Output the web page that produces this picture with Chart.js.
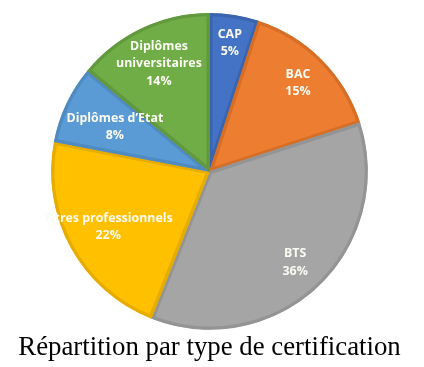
<!DOCTYPE html>
<html>
<head>
<meta charset="utf-8">
<script src="https://cdn.jsdelivr.net/npm/chart.js@4"></script>
<style>
  html, body { margin: 0; padding: 0; background: #fff; }
  #wrap { width: 424px; height: 367px; }
</style>
</head>
<body>
<div id="wrap"><canvas id="c" width="424" height="367"></canvas></div>
<script>
const categories = ["CAP", "BAC", "BTS", "Titres professionnels", "Diplômes d’Etat", "Diplômes universitaires"];
const labelLines = [["CAP"], ["BAC"], ["BTS"], ["Titres professionnels"], ["Diplômes d’Etat"], ["Diplômes", "universitaires"]];
const values = [5, 15, 36, 22, 8, 14];
const colors = ["#4472C4", "#ED7D31", "#A5A5A5", "#FFC000", "#5B9BD5", "#70AD47"];
const edgeColors = ["#3B64AE", "#D66E25", "#949494", "#E6AD00", "#4F8AC0", "#63993E"];
const labelRadiusFrac = [0.82, 0.79, 0.79, 0.73, 0.66, 0.75];
const title = "Répartition par type de certification";

const labelPlugin = {
  id: 'sliceLabels',
  afterDatasetsDraw(chart) {
    const ctx = chart.ctx;
    const meta = chart.getDatasetMeta(0);
    const total = values.reduce((a, b) => a + b, 0);
    ctx.save();
    ctx.fillStyle = '#FBFBF4';
    ctx.font = 'bold 12.4px "Open Sans"';
    ctx.textAlign = 'center';
    ctx.textBaseline = 'middle';
    meta.data.forEach((arc, i) => {
      const p = arc.getProps(['x', 'y', 'startAngle', 'endAngle', 'outerRadius'], true);
      const mid = (p.startAngle + p.endAngle) / 2;
      const r = p.outerRadius * labelRadiusFrac[i];
      const cx = p.x + Math.cos(mid) * r;
      const cy = p.y + Math.sin(mid) * r;
      const lines = labelLines[i].concat([Math.round(values[i] / total * 100) + '%']);
      const lh = 17.5;
      const y0 = cy - (lines.length - 1) * lh / 2;
      lines.forEach((t, k) => ctx.fillText(t, cx, y0 + k * lh));
    });
    ctx.restore();
  }
};

new Chart(document.getElementById('c'), {
  type: 'pie',
  data: {
    labels: categories,
    datasets: [{
      data: values,
      backgroundColor: colors,
      borderColor: edgeColors,
      borderWidth: 3,
      borderAlign: 'inner',
      hoverOffset: 0,
      offset: 0
    }]
  },
  options: {
    responsive: false,
    animation: false,
    events: [],
    layout: { padding: { top: 13, left: 0, right: 5, bottom: 0 } },
    plugins: {
      legend: { display: false },
      tooltip: { enabled: false },
      title: {
        display: true,
        text: title,
        position: 'bottom',
        color: '#000000',
        font: { family: '"Liberation Serif"', size: 26.8, weight: 'normal', lineHeight: 1.2 },
        padding: { top: 2, bottom: 3 }
      }
    }
  },
  plugins: [labelPlugin]
});
</script>
</body>
</html>
